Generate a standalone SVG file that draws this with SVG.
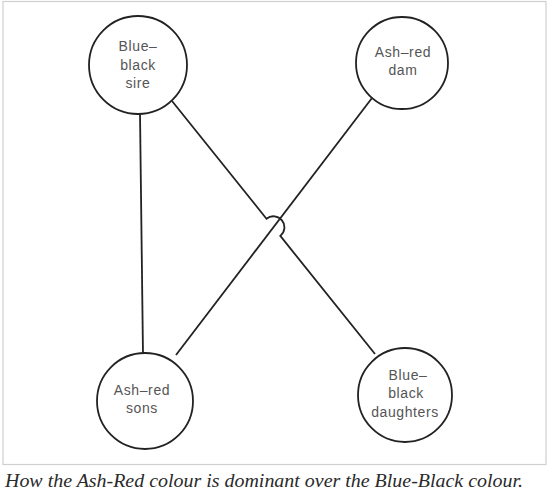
<svg xmlns="http://www.w3.org/2000/svg" width="551" height="498" viewBox="0 0 551 498">
<style>
.node{fill:#fff;stroke:#222;stroke-width:1.8}
.lbl{font-family:"Liberation Sans",Arial,sans-serif;font-size:14px;fill:#555;text-anchor:middle;letter-spacing:0.6px}
.conn{fill:none;stroke:#222;stroke-width:1.8}
.cap{font-family:"Liberation Serif","Times New Roman",serif;font-style:italic;font-size:19px;fill:#2a2a2a}
</style>
<rect x="0" y="0" width="551" height="498" fill="#fff"/>
<rect x="3" y="1.5" width="543" height="463" fill="none" stroke="#cfcfcf" stroke-width="1.2"/>
<g id="connectors">
<path class="conn" d="M140,113 L143,355"/>
<path class="conn" d="M172,101 L266.5,218.7 A11,11 0 0 1 280.3,235.9 L375,354"/>
<path class="conn" d="M372,98 L176,355"/>
</g>
<g id="sire">
<circle class="node" cx="138" cy="65" r="49"/>
<text class="lbl" x="138" y="51">Blue–</text>
<text class="lbl" x="138" y="70">black</text>
<text class="lbl" x="138" y="88">sire</text>
</g>
<g id="dam">
<circle class="node" cx="402" cy="63" r="46"/>
<text class="lbl" x="403" y="57">Ash–red</text>
<text class="lbl" x="403" y="75">dam</text>
</g>
<g id="sons">
<circle class="node" cx="145" cy="401" r="48"/>
<text class="lbl" x="142" y="395">Ash–red</text>
<text class="lbl" x="142" y="413">sons</text>
</g>
<g id="daughters">
<circle class="node" cx="405" cy="395" r="47"/>
<text class="lbl" x="408" y="380">Blue–</text>
<text class="lbl" x="406" y="398">black</text>
<text class="lbl" x="405" y="417">daughters</text>
</g>
<text class="cap" x="5" y="487" textLength="518" lengthAdjust="spacingAndGlyphs">How the Ash-Red colour is dominant over the Blue-Black colour.</text>
</svg>
